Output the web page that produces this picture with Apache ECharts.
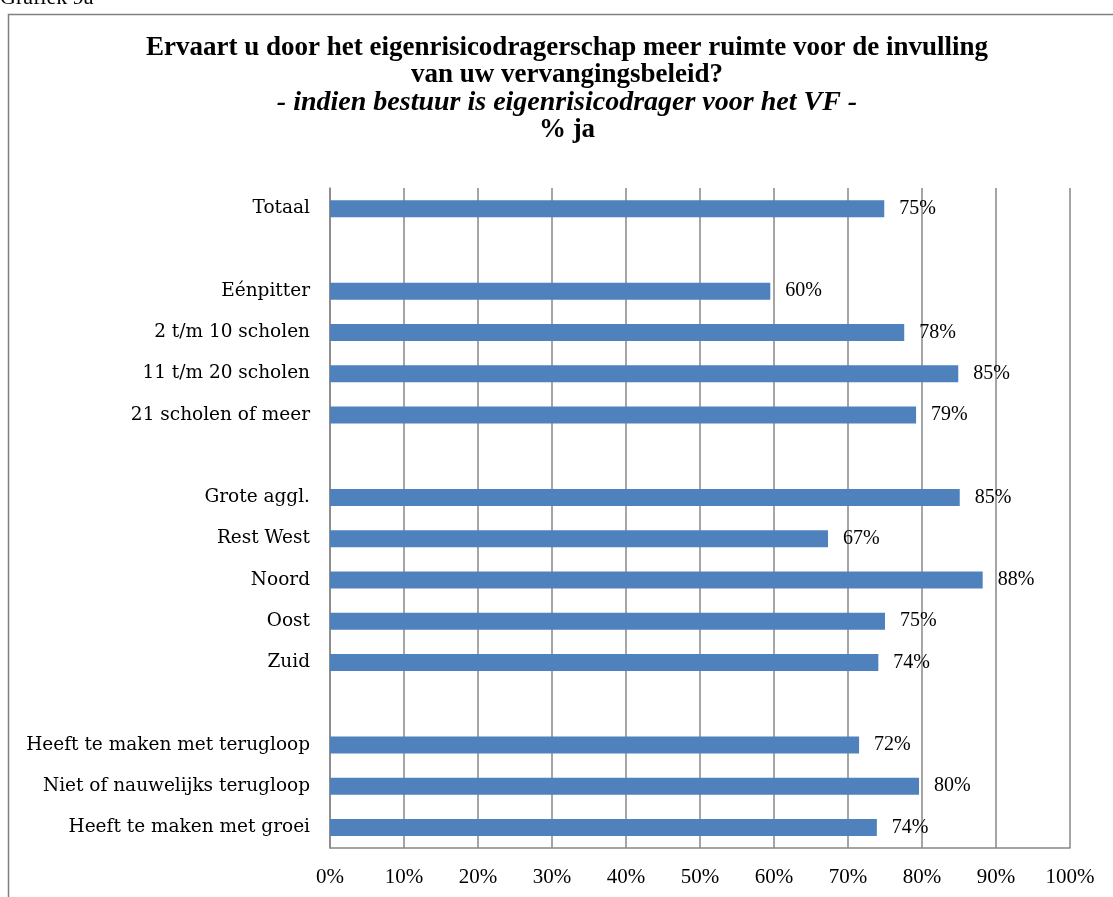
<!DOCTYPE html>
<html>
<head>
<meta charset="utf-8">
<script src="https://cdn.jsdelivr.net/npm/echarts@6/dist/echarts.min.js"></script>
<style>html,body{margin:0;padding:0;background:#fff;}#c{width:1113px;height:897px;}</style>
</head>
<body>
<div id="c"></div>
<script>
const categories = ['Totaal', '', 'Eénpitter', '2 t/m 10 scholen', '11 t/m 20 scholen', '21 scholen of meer', '', 'Grote aggl.', 'Rest West', 'Noord', 'Oost', 'Zuid', '', 'Heeft te maken met terugloop', 'Niet of nauwelijks terugloop', 'Heeft te maken met groei'];
const values = [74.9, null, 59.5, 77.6, 84.9, 79.2, null, 85.1, 67.3, 88.2, 75.0, 74.1, null, 71.5, 79.6, 73.9];
const tickLabels = ['0%', '10%', '20%', '30%', '40%', '50%', '60%', '70%', '80%', '90%', '100%'];
const titleLines = ['Ervaart u door het eigenrisicodragerschap meer ruimte voor de invulling', 'van uw vervangingsbeleid?'];
const subtitle = '- indien bestuur is eigenrisicodrager voor het VF -';
const unitLine = '% ja';
const caption = 'Grafiek 9a';

const serif = '"Liberation Serif", "DejaVu Serif", serif';
const labelFont = '"DejaVu Serif", "Liberation Serif", serif';
const chart = echarts.init(document.getElementById('c'));
chart.setOption({
  animation: false,
  backgroundColor: '#ffffff',
  grid: { left: 330, right: 43, top: 188, bottom: 49, containLabel: false },
  xAxis: {
    type: 'value', min: 0, max: 100, interval: 10,
    axisLine: { show: true, lineStyle: { color: '#878787', width: 1.5 } },
    axisTick: { show: false },
    splitLine: { show: true, lineStyle: { color: '#878787', width: 1.5 } },
    axisLabel: { margin: 19, color: '#000', fontFamily: serif, fontSize: 21,
      formatter: (v) => tickLabels[Math.round(v / 10)] }
  },
  yAxis: {
    type: 'category', inverse: true, data: categories,
    axisLine: { show: true, lineStyle: { color: '#878787', width: 1.5 } },
    axisTick: { show: false },
    axisLabel: { margin: 20, color: '#000', fontFamily: labelFont, fontSize: 18.5 }
  },
  series: [{
    type: 'bar', data: values, barWidth: 17,
    itemStyle: { color: '#4F81BD' },
    label: { show: true, position: 'right', distance: 15, color: '#000',
      fontFamily: serif, fontSize: 20,
      formatter: (p) => Math.round(p.value) + '%' }
  }],
  graphic: [
    { type: 'rect', shape: { x: 8.5, y: 14.5, width: 1200, height: 1000 },
      style: { fill: 'none', stroke: '#808080', lineWidth: 1.5 } },
    { type: 'text', x: 0, y: -13, style: { text: caption, font: '22px ' + serif, fill: '#000' } },
    { type: 'text', x: 567, y: 48, style: { text: titleLines[0], font: 'bold 27px ' + serif, fill: '#000', textAlign: 'center', textVerticalAlign: 'middle' } },
    { type: 'text', x: 567, y: 75, style: { text: titleLines[1], font: 'bold 27px ' + serif, fill: '#000', textAlign: 'center', textVerticalAlign: 'middle' } },
    { type: 'text', x: 567, y: 103, style: { text: subtitle, font: 'italic bold 28px ' + serif, fill: '#000', textAlign: 'center', textVerticalAlign: 'middle' } },
    { type: 'text', x: 567, y: 130, style: { text: unitLine, font: 'bold 27px ' + serif, fill: '#000', textAlign: 'center', textVerticalAlign: 'middle' } }
  ]
});
</script>
</body>
</html>
